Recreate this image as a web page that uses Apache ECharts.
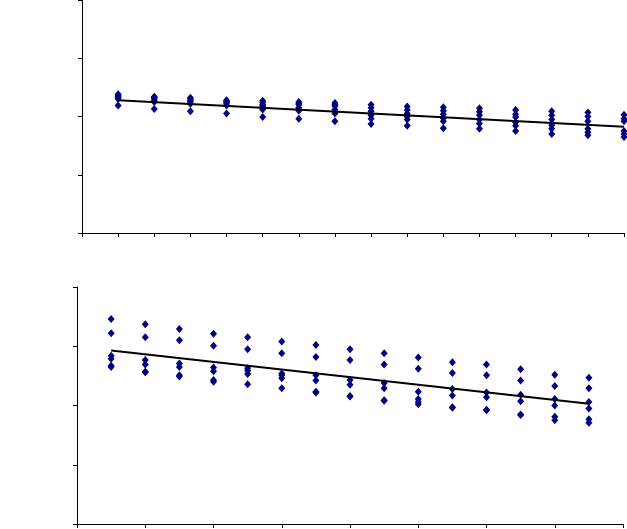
<!DOCTYPE html>
<html><head><meta charset="utf-8">
<script src="https://cdn.jsdelivr.net/npm/echarts@6/dist/echarts.min.js"></script>
<style>html,body{margin:0;padding:0;background:#fff}#c{width:627px;height:529px}</style>
</head><body><div id="c"></div>
<script>
// Top panel: x positions 1..15, several observations each
const topX = [1,2,3,4,5,6,7,8,9,10,11,12,13,14,15];
const topGroups = [
  [2.38,2.36,2.34,2.32,2.30,2.19],
  [2.34,2.33,2.31,2.28,2.25,2.13],
  [2.32,2.30,2.27,2.25,2.22,2.09],
  [2.28,2.26,2.25,2.22,2.19,2.05],
  [2.27,2.24,2.20,2.18,2.12,1.99],
  [2.25,2.22,2.20,2.15,2.10,1.96],
  [2.23,2.20,2.18,2.12,2.05,1.92],
  [2.20,2.15,2.09,2.02,1.96,1.87],
  [2.17,2.11,2.05,2.00,1.95,1.84],
  [2.16,2.10,2.04,1.97,1.92,1.80],
  [2.14,2.08,2.02,1.95,1.88,1.79],
  [2.11,2.04,1.99,1.90,1.84,1.75],
  [2.09,2.02,1.95,1.85,1.79,1.70],
  [2.07,2.00,1.92,1.79,1.73,1.68],
  [2.03,1.96,1.92,1.75,1.70,1.65]
];
const topTrendX = [1, 15];
const topTrendY = [2.28, 1.825];

// Bottom panel
const botX = [1,2,3,4,5,6,7,8,9,10,11,12,13,14,15];
const botGroups = [
  [3.46,3.22,2.84,2.79,2.67,2.65],
  [3.37,3.15,2.77,2.69,2.57,2.56],
  [3.29,3.10,2.71,2.65,2.51,2.49],
  [3.21,3.01,2.64,2.58,2.43,2.40],
  [3.15,2.95,2.63,2.59,2.53,2.36],
  [3.08,2.88,2.54,2.51,2.46,2.29],
  [3.02,2.82,2.51,2.42,2.23,2.22],
  [2.95,2.77,2.43,2.35,2.16,2.15],
  [2.88,2.69,2.38,2.29,2.09,2.08],
  [2.81,2.62,2.23,2.11,2.06,2.02],
  [2.73,2.55,2.28,2.17,1.97,1.96],
  [2.69,2.51,2.22,2.14,1.93,1.92],
  [2.61,2.42,2.18,2.07,1.85,1.84],
  [2.52,2.33,2.11,2.00,1.81,1.75],
  [2.47,2.29,2.06,1.95,1.77,1.71]
];
const botTrendX = [1, 15];
const botTrendY = [2.93, 2.03];

function pts(xs, groups){ const out=[]; xs.forEach((x,i)=>groups[i].forEach(v=>out.push([x,v]))); return out; }
function line(xs, ys){ return xs.map((x,i)=>[x,ys[i]]); }

const axisCommon = {
  axisLine:{show:true,lineStyle:{color:'#000',width:1}},
  axisTick:{show:true,inside:false,length:4,lineStyle:{color:'#000'}},
  axisLabel:{show:false},
  splitLine:{show:false}
};
const chart = echarts.init(document.getElementById('c'), null, {renderer:'canvas'});
chart.setOption({
  animation:false,
  backgroundColor:'#fff',
  grid:[
    {left:82, right:3, top:0, height:233},
    {left:77, right:4, top:287, height:237}
  ],
  xAxis:[
    Object.assign({type:'value', gridIndex:0, min:0, max:15, interval:1}, axisCommon),
    Object.assign({type:'value', gridIndex:1, min:0, max:16, interval:2}, axisCommon)
  ],
  yAxis:[
    Object.assign({type:'value', gridIndex:0, min:0, max:4, interval:1}, axisCommon),
    Object.assign({type:'value', gridIndex:1, min:0, max:4, interval:1}, axisCommon)
  ],
  series:[
    {type:'line', xAxisIndex:0, yAxisIndex:0, data:line(topTrendX, topTrendY), symbol:'none', lineStyle:{color:'#000',width:2}, z:3},
    {type:'scatter', xAxisIndex:0, yAxisIndex:0, data:pts(topX, topGroups), symbol:'diamond', symbolSize:[7,8], itemStyle:{color:'#000080',opacity:1}, clip:false, z:2},
    {type:'line', xAxisIndex:1, yAxisIndex:1, data:line(botTrendX, botTrendY), symbol:'none', lineStyle:{color:'#000',width:2}, z:3},
    {type:'scatter', xAxisIndex:1, yAxisIndex:1, data:pts(botX, botGroups), symbol:'diamond', symbolSize:[7,8], itemStyle:{color:'#000080',opacity:1}, clip:false, z:2}
  ]
});
</script></body></html>
